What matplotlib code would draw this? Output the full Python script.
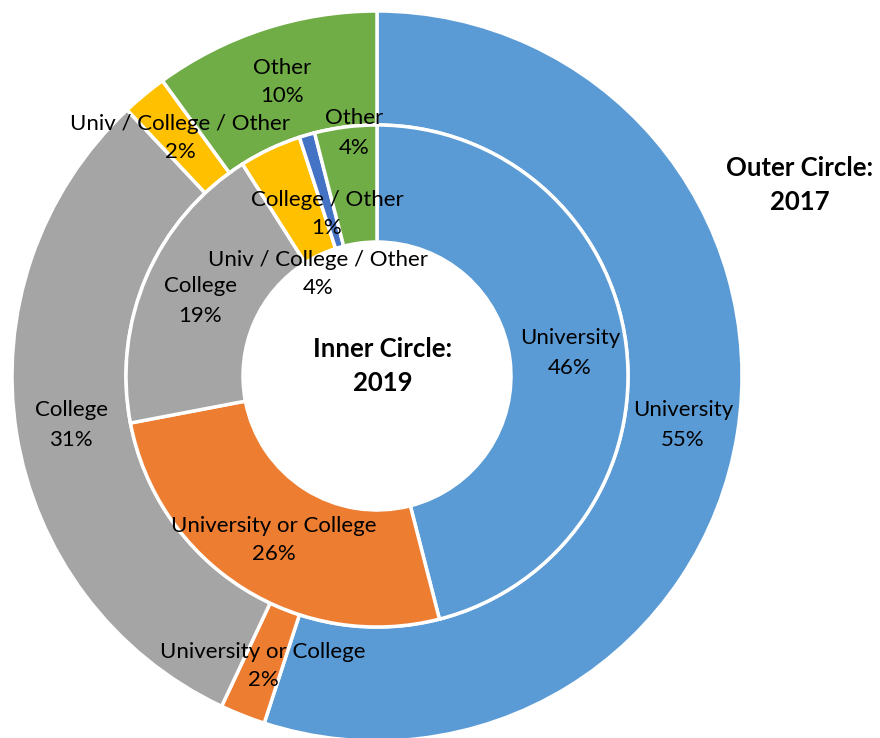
import matplotlib.pyplot as plt

# 2017 (outer ring), clockwise from 12 o'clock
outer_labels = ['University', 'University or College', 'College',
                'Univ / College / Other', 'Other']
outer_values = [55, 2, 31, 2, 10]

# 2019 (inner ring)
inner_labels = ['University', 'University or College', 'College',
                'Univ / College / Other', 'College / Other', 'Other']
inner_values = [46, 26, 19, 4, 1, 4]

colors = {
    'University': '#5B9BD5',
    'University or College': '#ED7D31',
    'College': '#A5A5A5',
    'Univ / College / Other': '#FFC000',
    'College / Other': '#4472C4',
    'Other': '#70AD47',
}

# label placement (pixel coords), as Excel left them
outer_pos = [(683, 425), (263, 666), (71, 425), (180, 138), (282, 82)]
inner_pos = [(570, 353), (274, 540), (200, 301), (318, 274), (327, 214), (354, 133)]

plt.rcParams['font.family'] = ['Lato', 'DejaVu Sans']

fig = plt.figure(figsize=(8.8, 7.38), dpi=100)
ax = fig.add_axes([0, 0, 1, 1])

cx, cy = 377, 376
r_out, r_mid, r_in = 365, 251, 134

# y axis is flipped below, so counterclock here draws clockwise on screen
ax.pie(outer_values, colors=[colors[l] for l in outer_labels], radius=r_out,
       center=(cx, cy), startangle=-90, counterclock=True,
       wedgeprops=dict(width=r_out - r_mid, edgecolor='white', linewidth=2.5))
ax.pie(inner_values, colors=[colors[l] for l in inner_labels], radius=r_mid,
       center=(cx, cy), startangle=-90, counterclock=True,
       wedgeprops=dict(width=r_mid - r_in, edgecolor='white', linewidth=2.5))

ax.set_xlim(0, 880)
ax.set_ylim(738, 0)
ax.set_aspect('equal')
ax.axis('off')


def put_label(lab, val, x, y):
    # category on one line, percent on the next (two texts, ~29 px apart)
    ax.text(x, y - 14.5, lab, ha='center', va='center', fontsize=16)
    ax.text(x, y + 14.5, f'{val}%', ha='center', va='center', fontsize=16)


for lab, val, (x, y) in zip(outer_labels, outer_values, outer_pos):
    put_label(lab, val, x, y)
for lab, val, (x, y) in zip(inner_labels, inner_values, inner_pos):
    put_label(lab, val, x, y)

ax.text(383, 366, 'Inner Circle:\n2019', ha='center', va='center',
        fontsize=18.5, fontweight='bold', linespacing=1.5)
ax.text(800, 185, 'Outer Circle:\n2017', ha='center', va='center',
        fontsize=18.5, fontweight='bold', linespacing=1.5)

plt.savefig('out.png', dpi=100)
